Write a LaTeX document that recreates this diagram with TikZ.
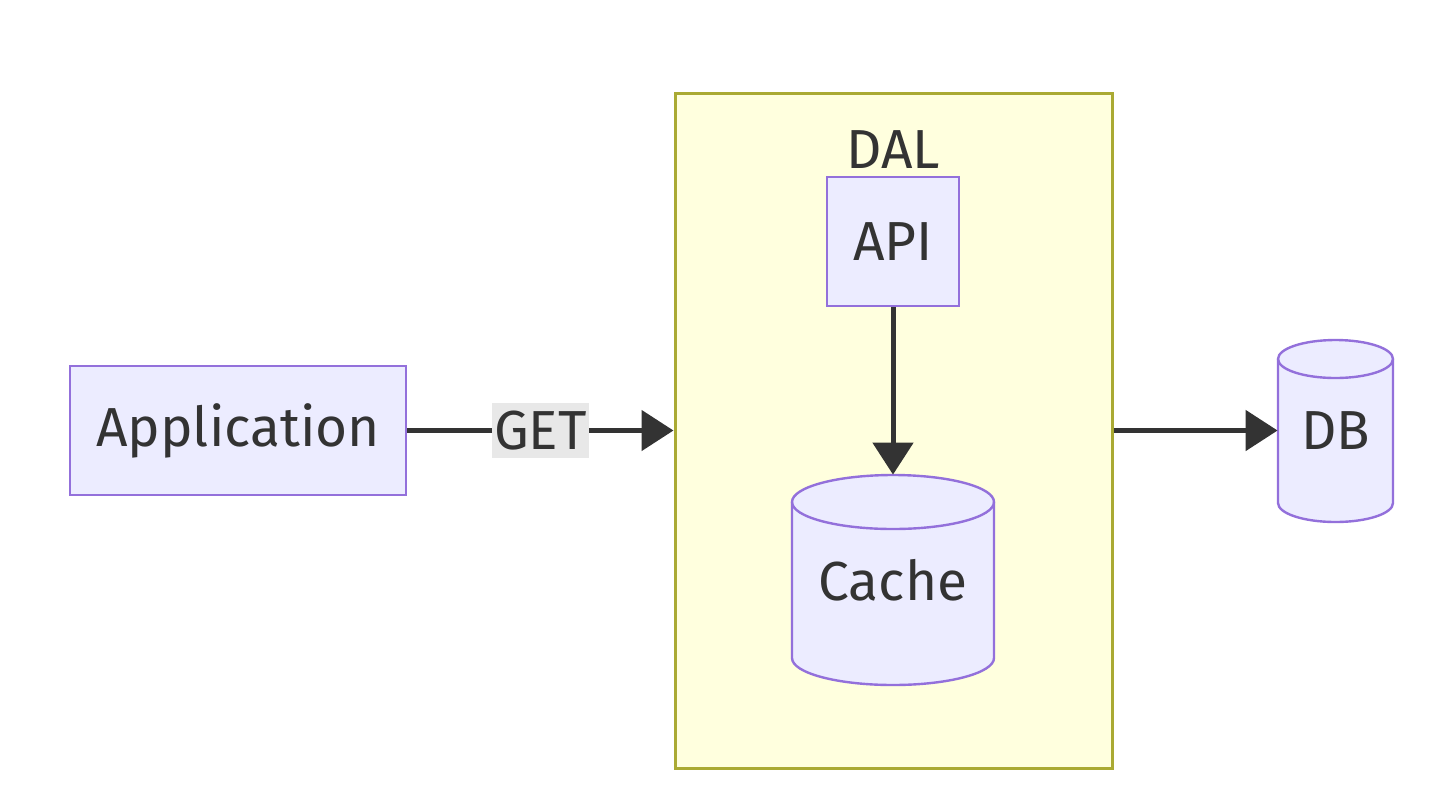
\documentclass[tikz,border=0pt]{standalone}
\usepackage{fontspec}
\setmainfont{Fira Sans}
\usetikzlibrary{arrows.meta}
\definecolor{nodeFill}{HTML}{ECECFF}
\definecolor{nodeStroke}{HTML}{9370DB}
\definecolor{clusterFill}{HTML}{FFFFDE}
\definecolor{clusterStroke}{HTML}{AAAA33}
\definecolor{ink}{HTML}{333333}
\definecolor{labelBg}{HTML}{E8E8E8}
\tikzset{
  box/.style={draw=nodeStroke, fill=nodeFill, line width=1.2pt, inner sep=0pt, text=ink, font=\fontsize{27.5}{32}\selectfont},
  cylshape/.style={draw=nodeStroke, fill=nodeFill, line width=1.2pt},
  cyltext/.style={inner sep=0pt, text=ink, font=\fontsize{27.5}{32}\selectfont},
  cluster/.style={draw=clusterStroke, fill=clusterFill, line width=1.5pt, inner sep=0pt},
  conn/.style={draw=ink, line width=2.5pt, -{Triangle[length=16pt,width=20pt]}},
  edgelabel/.style={fill=labelBg, inner xsep=1pt, minimum height=27.5pt, text=ink, font=\fontsize{27.5}{32}\selectfont}
}
\begin{document}
\begin{tikzpicture}[x=0.5pt,y=-0.5pt]
\useasboundingbox (0,0) rectangle (1452,800);
\fill[white] (0,0) rectangle (1452,800);
% cluster
\node[cluster, minimum width=218.5pt, minimum height=337.5pt] (dal) at (893.5,430.5) {};
\node[cyltext] (dallabel) at (893,150) {DAL};
% application
\node[box, minimum width=168pt, minimum height=64.5pt] (app) at (238,430.5) {Application};
% API
\node[box, minimum width=66pt, minimum height=64.5pt] (api) at (893,241.5) {API};
% Cache cylinder
\filldraw[cylshape] (792,502) -- (792,658)
  arc[start angle=180, end angle=360, x radius=50.5pt, y radius=13.5pt] -- (994,502)
  arc[start angle=0, end angle=180, x radius=50.5pt, y radius=13.5pt] -- cycle;
\draw[cylshape, fill=none] (792,502) arc[start angle=180, end angle=360, x radius=50.5pt, y radius=13.5pt];
\node[cyltext, minimum width=101pt, minimum height=105pt] (cache) at (893,580) {};
\node[cyltext] (cachetext) at (893,580) {Cache};
% DB cylinder
\filldraw[cylshape] (1278,359) -- (1278,503)
  arc[start angle=180, end angle=360, x radius=28.75pt, y radius=9.5pt] -- (1393,359)
  arc[start angle=0, end angle=180, x radius=28.75pt, y radius=9.5pt] -- cycle;
\draw[cylshape, fill=none] (1278,359) arc[start angle=180, end angle=360, x radius=28.75pt, y radius=9.5pt];
\node[cyltext, minimum width=57.5pt, minimum height=91pt] (db) at (1335.5,430.5) {};
\node[cyltext] (dbtext) at (1335.5,431) {DB};
% connectors
\draw[conn] (app.east) -- node[edgelabel] {GET} (dal.west);
\draw[conn] (api.south) -- (cache.north);
\draw[conn] (dal.east) -- (db.west);
\end{tikzpicture}
\end{document}
